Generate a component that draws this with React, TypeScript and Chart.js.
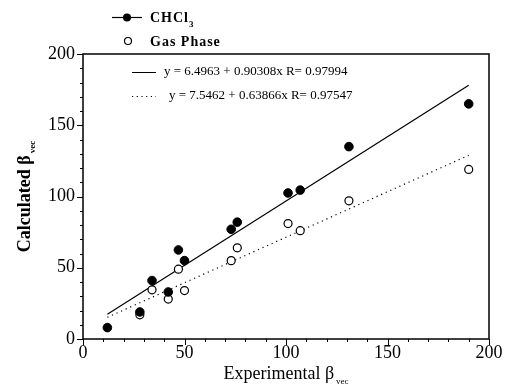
import React, { useEffect, useRef } from 'react';
import { Chart, registerables } from 'chart.js';

Chart.register(...registerables);

// Data
const chclX = [12, 28, 34, 42, 47, 50, 73, 76, 101, 107, 131, 190];
const chclY = [8, 19, 41, 33, 62.5, 55, 77, 82, 102.5, 104.5, 135, 165];
const gasX = [28, 34, 42, 47, 50, 73, 76, 101, 107, 131, 190];
const gasY = [17, 34.5, 28, 49, 34, 55, 64, 81, 76, 97, 119];

const xTickValues = [0, 50, 100, 150, 200];
const yTickValues = [0, 50, 100, 150, 200];

// Linear fits shown in the chart
const fitChclIntercept = 6.4963;
const fitChclSlope = 0.90308;
const fitChclR = 0.97994;
const fitGasIntercept = 7.5462;
const fitGasSlope = 0.63866;
const fitGasR = 0.97547;
const fitRange = [12, 190];

const SERIF = '"Liberation Serif", "DejaVu Serif", serif';

const decorPlugin = {
  id: 'decor',
  afterDraw(chart: any) {
    const ctx = chart.ctx as CanvasRenderingContext2D;
    const { left, right, top, bottom } = chart.chartArea;
    const xs = chart.scales.x;
    const ys = chart.scales.y;
    ctx.save();
    ctx.strokeStyle = '#000';
    ctx.fillStyle = '#000';
    // frame
    ctx.lineWidth = 1.5;
    ctx.strokeRect(left, top, right - left, bottom - top);
    // ticks
    ctx.lineWidth = 1;
    for (let v = 0; v <= 200; v += 10) {
      const len = v % 50 === 0 ? 6 : 3;
      const px = Math.round(xs.getPixelForValue(v)) + 0.5;
      ctx.beginPath();
      ctx.moveTo(px, bottom);
      ctx.lineTo(px, bottom + len);
      ctx.stroke();
      const py = Math.round(ys.getPixelForValue(v)) + 0.5;
      ctx.beginPath();
      ctx.moveTo(left, py);
      ctx.lineTo(left - len, py);
      ctx.stroke();
    }

    // top legend
    ctx.lineWidth = 1.2;
    ctx.beginPath();
    ctx.moveTo(112, 17.5);
    ctx.lineTo(142, 17.5);
    ctx.stroke();
    ctx.beginPath();
    ctx.arc(127, 17.5, 4, 0, Math.PI * 2);
    ctx.fill();
    ctx.beginPath();
    ctx.arc(128, 41, 3.5, 0, Math.PI * 2);
    ctx.fillStyle = '#fff';
    ctx.fill();
    ctx.stroke();
    ctx.fillStyle = '#000';
    ctx.textBaseline = 'alphabetic';
    ctx.textAlign = 'left';
    (ctx as any).letterSpacing = '1px';
    ctx.font = `bold 14px ${SERIF}`;
    ctx.fillText('CHCl', 150, 22);
    const wC = ctx.measureText('CHCl').width;
    ctx.font = `bold 9px ${SERIF}`;
    ctx.fillText('3', 150 + wC, 27);
    ctx.font = `bold 14px ${SERIF}`;
    ctx.fillText('Gas Phase', 150, 46);
    (ctx as any).letterSpacing = '0px';

    // fit legend inside plot
    ctx.lineWidth = 1;
    ctx.beginPath();
    ctx.moveTo(132, 72.5);
    ctx.lineTo(156, 72.5);
    ctx.stroke();
    ctx.setLineDash([1.2, 3.5]);
    ctx.beginPath();
    ctx.moveTo(132, 96.5);
    ctx.lineTo(156, 96.5);
    ctx.stroke();
    ctx.setLineDash([]);
    ctx.font = `13px ${SERIF}`;
    ctx.textBaseline = 'middle';
    ctx.fillText(`y = ${fitChclIntercept} + ${fitChclSlope}x R= ${fitChclR}`, 164, 72);
    ctx.fillText(`y = ${fitGasIntercept} + ${fitGasSlope}x R= ${fitGasR}`, 169, 96);

    // x axis title
    ctx.textBaseline = 'alphabetic';
    ctx.font = `18px ${SERIF}`;
    const main = 'Experimental \u03b2';
    const wMain = ctx.measureText(main).width;
    ctx.font = `9px ${SERIF}`;
    const wSub = ctx.measureText('vec').width;
    const cx = (left + right) / 2;
    const sx = cx - (wMain + 2 + wSub) / 2;
    ctx.font = `18px ${SERIF}`;
    ctx.fillText(main, sx, 379);
    ctx.font = `9px ${SERIF}`;
    ctx.fillText('vec', sx + wMain + 2, 384);

    // y axis title
    ctx.save();
    ctx.translate(30, (top + bottom) / 2);
    ctx.rotate(-Math.PI / 2);
    ctx.font = `bold 18px ${SERIF}`;
    const ym = 'Calculated \u03b2';
    const wYm = ctx.measureText(ym).width;
    ctx.font = `bold 9px ${SERIF}`;
    const wYs = ctx.measureText('vec').width;
    const ysx = -(wYm + 2 + wYs) / 2;
    ctx.font = `bold 18px ${SERIF}`;
    ctx.fillText(ym, ysx, 0);
    ctx.font = `bold 9px ${SERIF}`;
    ctx.fillText('vec', ysx + wYm + 2, 5);
    ctx.restore();

    ctx.restore();
  },
};

export default function App() {
  const ref = useRef<HTMLCanvasElement>(null);
  useEffect(() => {
    if (!ref.current) return;
    const fitLine = (a: number, b: number) => fitRange.map((x) => ({ x, y: a + b * x }));
    const chart = new Chart(ref.current, {
      type: 'scatter',
      data: {
        datasets: [
          {
            label: 'fit CHCl3',
            data: fitLine(fitChclIntercept, fitChclSlope),
            showLine: true,
            borderColor: '#000',
            borderWidth: 1.2,
            pointRadius: 0,
            order: 3,
          },
          {
            label: 'fit Gas',
            data: fitLine(fitGasIntercept, fitGasSlope),
            showLine: true,
            borderColor: '#000',
            borderWidth: 1.2,
            borderDash: [1.2, 3.8],
            pointRadius: 0,
            order: 3,
          },
          {
            label: 'Gas Phase',
            data: gasX.map((x, i) => ({ x, y: gasY[i] })),
            backgroundColor: '#fff',
            borderColor: '#000',
            borderWidth: 1.2,
            pointRadius: 4,
            order: 2,
          },
          {
            label: 'CHCl3',
            data: chclX.map((x, i) => ({ x, y: chclY[i] })),
            backgroundColor: '#000',
            borderColor: '#000',
            borderWidth: 1,
            pointRadius: 4.3,
            order: 1,
          },
        ],
      } as any,
      options: {
        responsive: false,
        animation: false,
        layout: { padding: { top: 54, right: 17, left: 0, bottom: 0 } },
        plugins: { legend: { display: false }, tooltip: { enabled: false } },
        scales: {
          x: {
            type: 'linear',
            min: 0,
            max: 200,
            afterBuildTicks: (s: any) => {
              s.ticks = xTickValues.map((value) => ({ value }));
            },
            afterFit: (s: any) => {
              s.height = 48;
            },
            grid: { display: false, drawTicks: false },
            border: { display: false },
            ticks: {
              font: { family: SERIF, size: 18 },
              color: '#000',
              padding: 3,
              maxRotation: 0,
              autoSkip: false,
            },
          },
          y: {
            type: 'linear',
            min: 0,
            max: 200,
            afterBuildTicks: (s: any) => {
              s.ticks = yTickValues.map((value) => ({ value }));
            },
            afterFit: (s: any) => {
              s.width = 83;
            },
            grid: { display: false, drawTicks: false },
            border: { display: false },
            ticks: {
              font: { family: SERIF, size: 18 },
              color: '#000',
              padding: 8,
              autoSkip: false,
            },
          },
        },
      } as any,
      plugins: [decorPlugin],
    });
    return () => chart.destroy();
  }, []);
  return (
    <div style={{ position: 'absolute', left: 0, top: 0, width: 506, height: 387, background: '#fff' }}>
      <canvas ref={ref} width={506} height={387} style={{ display: 'block' }} />
    </div>
  );
}
